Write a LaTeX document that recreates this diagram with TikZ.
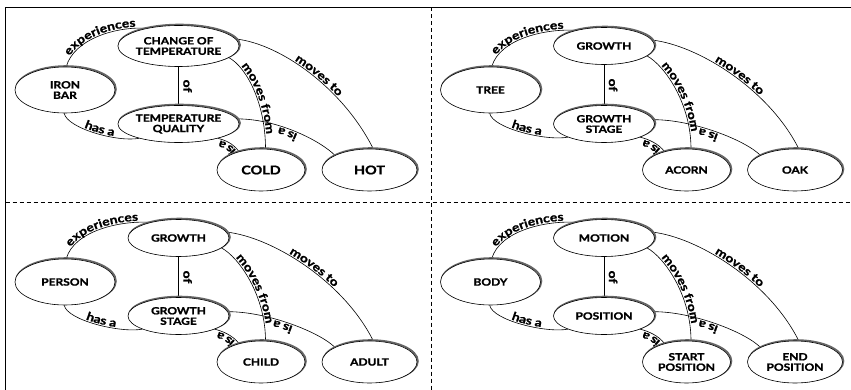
\documentclass[tikz,border=0pt]{standalone}
\usepackage{fontspec}
\newfontfamily\gill{Lato}[FakeStretch=1.2, BoldFeatures={FakeBold=1.3}]
\usetikzlibrary{shapes.geometric,decorations.text,backgrounds}
\newcommand\lblfont{\gill\bfseries\fontsize{11.5}{11.5}\selectfont}
\newcommand\bigtxt[1]{{\fontsize{12}{12.5}\selectfont #1}}
\tikzset{
  cnode/.style={ellipse, draw=black, line width=0.6pt, fill=white, inner sep=0pt, align=center,
    font=\gill\bfseries\fontsize{10}{10.4}\selectfont,
    preaction={draw=black!60, line width=1.8pt, transform canvas={shift={(0.9pt,0.9pt)}}}},
  link/.style={draw=black, line width=0.6pt},
  lbl/.style={postaction={decorate, decoration={text along path, text align=center, raise=1.5pt, text={|\lblfont|#1}}}},
  oflbl/.style={font=\lblfont, rotate=-90, anchor=south, inner sep=4.5pt},
  frameline/.style={draw=black, line width=1pt},
  divline/.style={draw=black, line width=0.7pt, dash pattern=on 4pt off 3pt}
}
\newcommand\cmpanel[9]{%
\begin{scope}[shift={(#2,#3)}]
  \node[cnode, minimum width=101pt, minimum height=#9] (T#1) at (178.5,46) {#4};
  \node[cnode, minimum width=100pt, minimum height=46pt] (L#1) at (65,90) {#5};
  \node[cnode, minimum width=101pt, minimum height=37pt] (M#1) at (178.5,124) {#6};
  \node[cnode, minimum width=88pt, minimum height=42pt] (A#1) at (261,170) {#7};
  \node[cnode, minimum width=95pt, minimum height=42pt] (B#1) at (369.5,170) {#8};
  \begin{pgfonlayer}{background}
    \draw[link, lbl=experiences] (L#1.87) .. controls +(8,-28) and +(-30,-2) .. (T#1.151);
    \draw[link, lbl=has a] (L#1.268) .. controls +(3,15) and +(-22,4) .. (M#1.200);
    \draw[link] (T#1.south) -- node[oflbl] {of} (M#1.north);
    \draw[link, lbl=moves from] (T#1.347) .. controls +(18,10) and +(0,-45) .. (A#1.78);
    \draw[link, lbl=moves to] (T#1.7) .. controls +(45,5) and +(-30,-60) .. (B#1.80);
    \draw[link, lbl=is a] (A#1.140) .. controls +(-6,-8) and +(8,2) .. (M#1.340);
    \draw[link, lbl=is a] (B#1.157) .. controls +(-15,-15) and +(40,0) .. (M#1.5);
  \end{pgfonlayer}
\end{scope}}
\begin{document}
\begin{tikzpicture}[x=1pt, y=-1pt]
  \useasboundingbox (0,0) rectangle (851,390);
  \draw[frameline] (5.5,390) -- (5.5,7.5) -- (851,7.5);
  \draw[divline] (431,7.5) -- (431,390);
  \draw[divline] (5.5,202) -- (851,202);
  \cmpanel{1}{0}{0}{CHANGE OF\\TEMPERATURE}{IRON\\BAR}{TEMPERATURE\\QUALITY}{\bigtxt{COLD}}{\bigtxt{HOT}}{41pt}
  \cmpanel{2}{425.5}{0}{GROWTH}{TREE}{GROWTH\\STAGE}{ACORN}{OAK}{37pt}
  \cmpanel{3}{0}{192}{GROWTH}{PERSON}{GROWTH\\STAGE}{CHILD}{ADULT}{37pt}
  \cmpanel{4}{425.5}{192}{MOTION}{BODY}{POSITION}{START\\POSITION}{END\\POSITION}{37pt}
\end{tikzpicture}
\end{document}
